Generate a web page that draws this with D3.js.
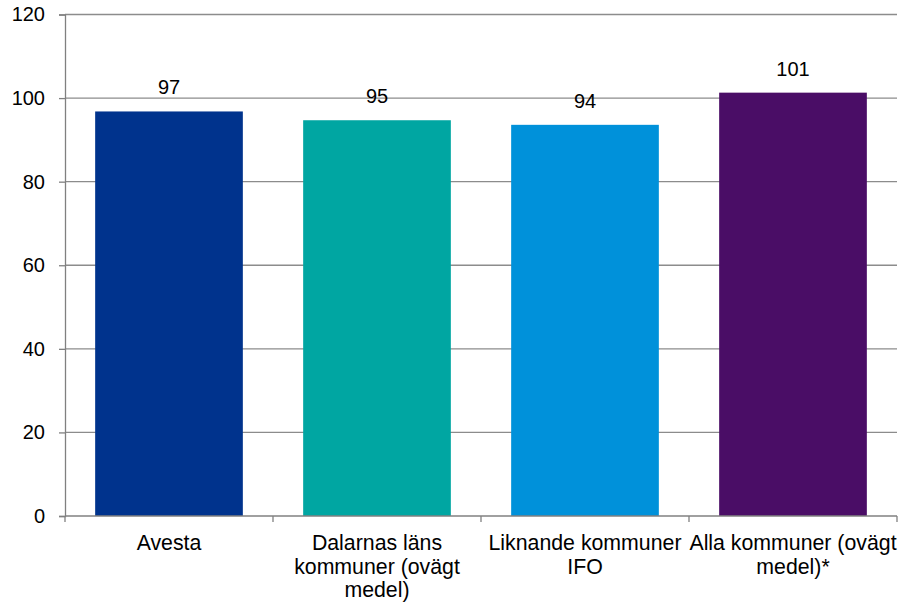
<!DOCTYPE html>
<html><head><meta charset="utf-8">
<script src="https://cdn.jsdelivr.net/npm/d3@7"></script>
<style>body{margin:0;background:#fff;} svg{display:block;font-family:"Liberation Sans",Arial,sans-serif;}</style>
</head><body><svg id="c" width="901" height="602"></svg>
<script>
const categories = ["Avesta", "Dalarnas läns\nkommuner (ovägt\nmedel)", "Liknande kommuner\nIFO", "Alla kommuner (ovägt\nmedel)*"];
const values = [96.8, 94.7, 93.6, 101.3];
const valueLabels = ["97", "95", "94", "101"];
const colors = ["#00338D", "#00A6A2", "#0091DA", "#4A0D66"];
const yTicks = [0, 20, 40, 60, 80, 100, 120];

const FS = 20;
const svg = d3.select("#c");
const m = {left: 65, right: 897, top: 14.5, bottom: 516};
const x = d3.scaleBand().domain(d3.range(categories.length)).range([m.left, m.right]).paddingInner(0.29).paddingOuter(0.145);
const y = d3.scaleLinear().domain([0, 120]).range([m.bottom, m.top]);

// gridlines
svg.append("g").selectAll("line").data(yTicks.filter(d => d > 0)).join("line")
  .attr("x1", m.left).attr("x2", m.right).attr("y1", d => y(d)).attr("y2", d => y(d))
  .attr("stroke", "#8c8c8c").attr("stroke-width", 1.3);

// bars
svg.append("g").selectAll("rect").data(values).join("rect")
  .attr("x", (d, i) => x(i)).attr("width", x.bandwidth())
  .attr("y", d => y(d)).attr("height", d => y(0) - y(d))
  .attr("fill", (d, i) => colors[i]);

// value labels
svg.append("g").selectAll("text").data(values).join("text")
  .attr("x", (d, i) => x(i) + x.bandwidth() / 2).attr("y", d => y(d) - 17)
  .attr("text-anchor", "middle").attr("font-size", FS).attr("fill", "#000")
  .text((d, i) => valueLabels[i]);

// y axis
const yAxis = svg.append("g").attr("transform", `translate(${m.left},0)`)
  .call(d3.axisLeft(y).tickValues(yTicks).tickSize(6).tickPadding(8));
yAxis.select(".domain").attr("stroke", "#808080").attr("stroke-width", 1.3);
yAxis.selectAll(".tick line").attr("stroke", "#808080").attr("stroke-width", 1.3);
yAxis.selectAll(".tick text").attr("font-size", FS).attr("fill", "#000").attr("font-family", "Liberation Sans, Arial, sans-serif").attr("dx", -6);

// x axis
const xb = svg.append("g").attr("transform", `translate(0,${m.bottom})`);
xb.append("line").attr("x1", m.left).attr("x2", m.right).attr("stroke", "#808080").attr("stroke-width", 1.3);
const bounds = d3.range(categories.length + 1).map(i => m.left + i * (m.right - m.left) / categories.length);
xb.selectAll("line.t").data(bounds).join("line").attr("class", "t")
  .attr("x1", d => d).attr("x2", d => d).attr("y1", 0).attr("y2", 6)
  .attr("stroke", "#808080").attr("stroke-width", 1.3);

const lbl = svg.append("g").selectAll("text").data(categories).join("text")
  .attr("text-anchor", "middle").attr("font-size", 21.3).attr("fill", "#000");
lbl.each(function(d, i) {
  const t = d3.select(this);
  d.split("\n").forEach((line, j) => {
    t.append("tspan").attr("x", x(i) + x.bandwidth() / 2).attr("y", 550 + j * 23.5).text(line);
  });
});
</script></body></html>
